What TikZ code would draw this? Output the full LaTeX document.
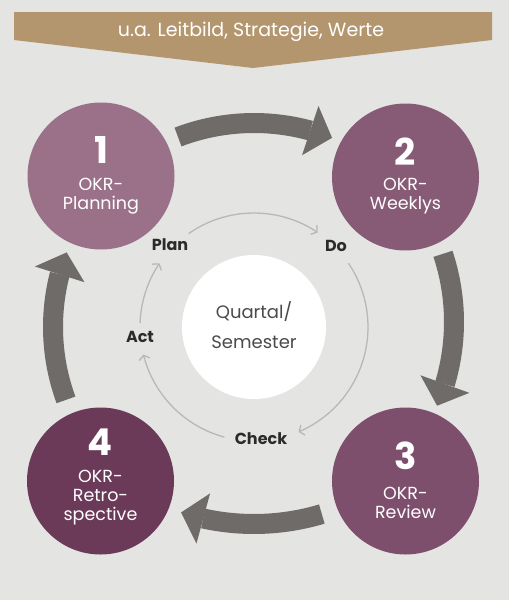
\documentclass[tikz,border=0pt]{standalone}
\usepackage{fontspec}
\setmainfont{Poppins}
\usetikzlibrary{arrows.meta,bending}
\definecolor{bg}{HTML}{E4E4E3}
\definecolor{banner}{HTML}{B3966D}
\definecolor{cone}{HTML}{9B7189}
\definecolor{ctwo}{HTML}{875B76}
\definecolor{cthree}{HTML}{7E4F6D}
\definecolor{cfour}{HTML}{6B3A59}
\definecolor{agray}{HTML}{6F6B68}
\definecolor{ringgray}{HTML}{B8B8B8}
\definecolor{dark}{HTML}{2B2B2B}
\tikzset{
  phase/.style={circle, minimum size=147pt, inner sep=0pt},
  num/.style={text=white, font=\fontsize{37}{40}\selectfont\bfseries},
  plabel/.style={text=white, align=center, font=\fontsize{17.5}{19}\selectfont},
  bigarrow/.style={draw=agray, line width=20pt, -{Triangle[length=23pt,width=52pt,line width=0pt]}},
  ringarrow/.style={draw=ringgray, line width=1.3pt, -{Straight Barb[length=4pt,width=11pt]}},
  pdca/.style={text=dark, font=\fontsize{16}{18}\selectfont\bfseries}
}
\begin{document}
\begin{tikzpicture}[x=1pt,y=1pt]
\fill[bg] (0,0) rectangle (509,-600);
\useasboundingbox (0,0) rectangle (509,-600);
% banner
\fill[banner] (14,-12) -- (492,-12) -- (492,-40) -- (253,-68) -- (14,-40) -- cycle;
\node[text=white, font=\fontsize{19}{22}\selectfont] (bannertext) at (251,-32) {u.a. Leitbild, Strategie, Werte};
% phase circles
\node[phase, fill=cone] (p1) at (101,-176) {};
\node[phase, fill=ctwo] (p2) at (405.5,-177) {};
\node[phase, fill=cthree] (p3) at (405.5,-481) {};
\node[phase, fill=cfour] (p4) at (100.5,-481) {};
\node[num] (n1) at (101,-150) {1};
\node[plabel] (l1) at (101,-196) {OKR-\\Planning};
\node[num] (n2) at (405.5,-152) {2};
\node[plabel] (l2) at (405.5,-196) {OKR-\\Weeklys};
\node[num] (n3) at (405.5,-456) {3};
\node[plabel] (l3) at (405.5,-502.5) {OKR-\\Review};
\node[num] (n4) at (100.5,-442) {4};
\node[plabel] (l4) at (100.5,-498) {OKR-\\Retro-\\spective};
% big arrows
\draw[bigarrow] (254,-336) ++(110.9:213) arc[start angle=110.9,end angle=68.5,radius=213];
\draw[bigarrow] (238,-322) ++(18.4:216) arc[start angle=18.4,end angle=-22.8,radius=216];
\draw[bigarrow] (254,-288) ++(-73.3:236) arc[start angle=-73.3,end angle=-108,radius=236];
\draw[bigarrow] (264,-327) ++(200.2:211) arc[start angle=200.2,end angle=159.3,radius=211];
% centre
\node[circle, fill=white, minimum size=144pt, inner sep=0pt] (qs) at (254,-327) {};
\node[text=dark!85, align=center, font=\fontsize{18}{30}\selectfont] (qstext) at (254,-325) {Quartal/\\Semester};
% ring
\draw[ringarrow] (qs.center) ++(125:114) arc[start angle=125,end angle=56,radius=114];
\draw[ringarrow] (qs.center) ++(34:114) arc[start angle=34,end angle=-67,radius=114];
\draw[ringarrow] (qs.center) ++(-105:114) arc[start angle=-105,end angle=-166,radius=114];
\draw[ringarrow] (qs.center) ++(178:114) arc[start angle=178,end angle=146,radius=114];
% PDCA labels
\node[pdca] (plan) at (170,-245) {Plan};
\node[pdca] (do) at (336,-246) {Do};
\node[pdca] (act) at (140,-337) {Act};
\node[pdca] (check) at (261,-439) {Check};
\end{tikzpicture}
\end{document}
